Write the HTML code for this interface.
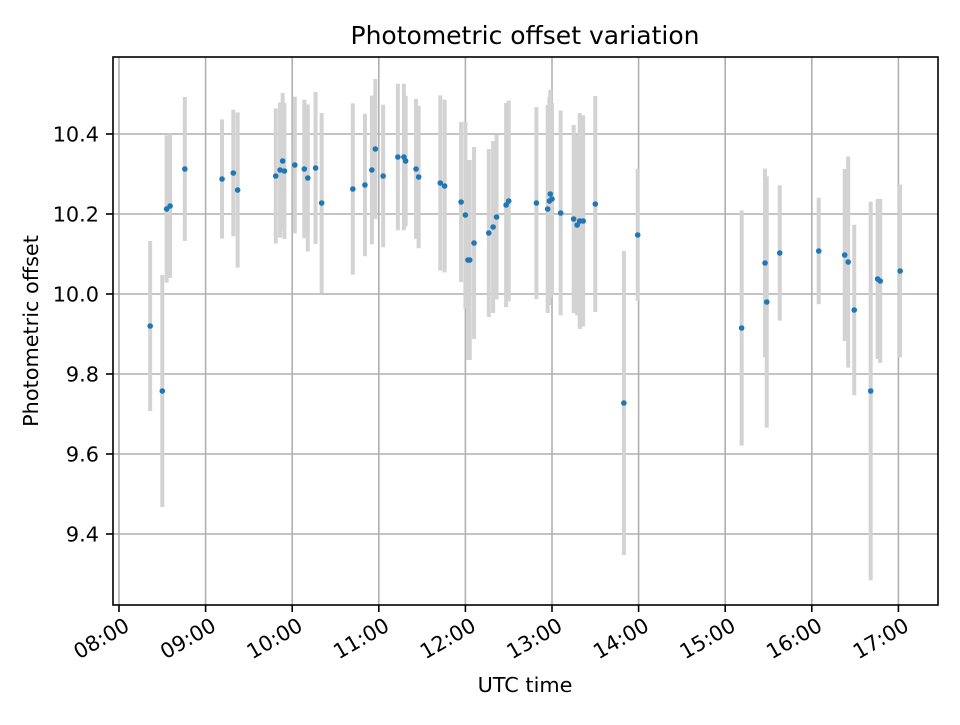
<!DOCTYPE html>
<html><head><meta charset="utf-8"><style>
body{margin:0;background:#fff;font-family:"Liberation Sans","DejaVu Sans",sans-serif;}
svg text{font-family:"DejaVu Sans","Liberation Sans",sans-serif;fill:#000;}
</style></head><body>
<svg id="chart" width="960" height="720" viewBox="0 0 960 720" xmlns="http://www.w3.org/2000/svg">
<rect width="960" height="720" fill="#fff"/>
<text x="525" y="44" font-size="25" text-anchor="middle">Photometric offset variation</text>
<text x="525" y="692" font-size="20.8" text-anchor="middle">UTC time</text>
<text transform="translate(38,331) rotate(-90)" font-size="20.8" text-anchor="middle">Photometric offset</text>
<g id="grid"></g><g id="bars"></g><g id="pts"></g><g id="ticks"></g>
<rect x="113" y="57" width="825" height="548" fill="none" stroke="#000" stroke-width="1.6"/>
</svg>
<script>
const times=[8.36,8.50,8.55,8.59,8.76,9.19,9.32,9.37,9.81,9.86,9.89,9.91,10.03,10.14,10.18,10.27,10.34,10.70,10.84,10.92,10.96,11.05,11.22,11.29,11.31,11.43,11.46,11.71,11.76,11.95,12.00,12.03,12.05,12.10,12.27,12.32,12.36,12.47,12.50,12.82,12.95,12.97,12.98,13.00,13.10,13.25,13.29,13.32,13.36,13.50,13.83,13.99,15.19,15.46,15.48,15.63,16.08,16.38,16.42,16.49,16.68,16.76,16.79,17.02];
const offsets=[9.92,9.7575,10.2125,10.22,10.3125,10.2875,10.3025,10.26,10.295,10.31,10.3325,10.3075,10.3225,10.3125,10.29,10.315,10.2275,10.2625,10.2725,10.31,10.3625,10.295,10.3425,10.3425,10.3325,10.3125,10.2925,10.2775,10.27,10.23,10.1975,10.085,10.085,10.1275,10.1525,10.1675,10.1925,10.2225,10.2325,10.2275,10.2125,10.2325,10.25,10.2375,10.2025,10.1875,10.1725,10.1825,10.1825,10.225,9.7275,10.1475,9.915,10.0775,9.98,10.1025,10.1075,10.0975,10.08,9.96,9.7575,10.0375,10.0325,10.0575];
const errors=[0.2125,0.29,0.184,0.18,0.18,0.149,0.158,0.194,0.169,0.169,0.17,0.17,0.171,0.173,0.184,0.19,0.225,0.214,0.178,0.186,0.175,0.178,0.183,0.183,0.163,0.175,0.178,0.219,0.216,0.2,0.234,0.25,0.25,0.24,0.21,0.215,0.206,0.255,0.251,0.24,0.26,0.26,0.26,0.24,0.256,0.235,0.226,0.27,0.264,0.27,0.38,0.165,0.294,0.236,0.314,0.169,0.133,0.215,0.264,0.213,0.473,0.2,0.205,0.216];
const xTickHours=[8,9,10,11,12,13,14,15,16,17];
const xTickLabels=["08:00","09:00","10:00","11:00","12:00","13:00","14:00","15:00","16:00","17:00"];
const yTicks=[9.4,9.6,9.8,10.0,10.2,10.4];
const yTickLabels=["9.4","9.6","9.8","10.0","10.2","10.4"];
const NS="http://www.w3.org/2000/svg";
function xs(h){return 119+(h-8)*86.6;}
function ys(v){return 134+(10.4-v)*400;}
function mk(tag,attrs,parent){const e=document.createElementNS(NS,tag);for(const k in attrs)e.setAttribute(k,attrs[k]);document.getElementById(parent).appendChild(e);return e;}
xTickHours.forEach((h,i)=>{
  const x=xs(h);
  const g=mk('line',{x1:x,x2:x,y1:57,y2:605,stroke:'#b0b0b0','stroke-width':1.6},'grid');
  
  
  const t=mk('line',{x1:x,x2:x,y1:605,y2:612,stroke:'#000','stroke-width':1.6},'ticks');
  
  
  const lx=x+4, ly=616;
  const l=mk('text',{x:lx,y:ly,dy:'0.76em','font-size':20.8,'text-anchor':'end',transform:`rotate(-30 ${lx} ${ly})`},'ticks');
  l.textContent=xTickLabels[i];
  
  
});
yTicks.forEach((v,i)=>{
  const y=ys(v);
  const g=mk('line',{x1:113,x2:938,y1:y,y2:y,stroke:'#b0b0b0','stroke-width':1.6},'grid');
  
  
  const t=mk('line',{x1:106,x2:113,y1:y,y2:y,stroke:'#000','stroke-width':1.6},'ticks');
  
  
  const l=mk('text',{x:99,y:y+7.5,'font-size':20.8,'text-anchor':'end'},'ticks');
  l.textContent=yTickLabels[i];
  
  
});
times.forEach((h,i)=>{
  const x=xs(h);
  const b=mk('line',{x1:x,x2:x,y1:ys(offsets[i]+errors[i]),y2:ys(offsets[i]-errors[i]),stroke:'#d3d3d3','stroke-width':4},'bars');
  
  
  const p=mk('circle',{cx:x,cy:ys(offsets[i]),r:2.8,fill:'#1f77b4'},'pts');
  
  
});
</script>
</body></html>
